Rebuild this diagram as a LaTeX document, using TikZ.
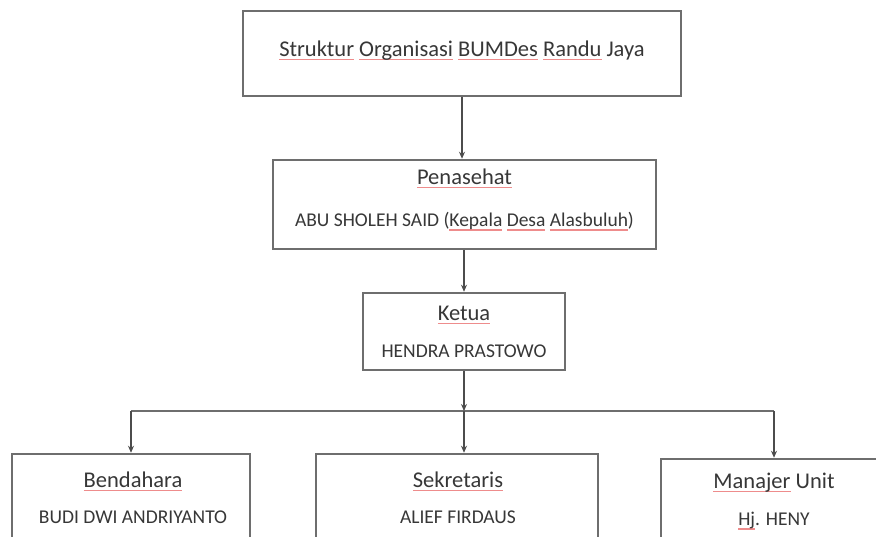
\documentclass[tikz,border=0pt]{standalone}
\usepackage{fontspec}
\setmainfont{Carlito}
\usetikzlibrary{arrows.meta}
\definecolor{garis}{RGB}{110,110,110}
\definecolor{teks}{RGB}{55,55,55}
\definecolor{ejaan}{RGB}{238,140,140}
\newcommand{\ejaan}[1]{\setbox0\hbox{#1}\rlap{\textcolor{ejaan}{\rule[-4pt]{\wd0}{1.3pt}}}\box0\relax}
\tikzset{
	kotak/.style={draw=garis, line width=2.5pt, inner sep=0pt},
	judulteks/.style={text=teks, inner sep=0pt, text height=15pt, text depth=5pt, font=\fontsize{22.5}{27}\selectfont},
	namateks/.style={text=teks, inner sep=0pt, text height=13pt, text depth=4pt, font=\fontsize{19.5}{23}\selectfont},
	panah/.style={draw=black!70, line width=1.4pt, -{Stealth[length=7pt,width=6pt]}},
	jalur/.style={draw=garis, line width=1.8pt},
}
\begin{document}
\begin{tikzpicture}[x=1pt,y=-1pt]
	\useasboundingbox (0,0) rectangle (876,536);
	\clip (0,0) rectangle (876,536);
	\fill[white] (0,0) rectangle (876,536);
	
	\node[kotak, minimum width=438pt, minimum height=85pt] (judul) at (462,53.5) {};
	\node[judulteks] (judul-a) at (462,51) {\ejaan{Struktur} \ejaan{Organisasi} \ejaan{BUMDes} \ejaan{Randu} Jaya};
	
	\node[kotak, minimum width=383pt, minimum height=89pt] (penasehat) at (464.5,204.5) {};
	\node[judulteks] (penasehat-a) at (464.5,179) {\ejaan{Penasehat}};
	\node[namateks] (penasehat-b) at (464.5,222) {ABU SHOLEH SAID (\ejaan{Kepala} \ejaan{Desa} \ejaan{Alasbuluh})};
	
	\node[kotak, minimum width=202pt, minimum height=77pt] (ketua) at (464,331.5) {};
	\node[judulteks] (ketua-a) at (464,315) {\ejaan{Ketua}};
	\node[namateks] (ketua-b) at (464,353) {HENDRA PRASTOWO};
	
	\node[kotak, minimum width=238pt, minimum height=90pt] (bendahara) at (131,499) {};
	\node[judulteks] (bendahara-a) at (133,482) {\ejaan{Bendahara}};
	\node[namateks] (bendahara-b) at (133,519) {BUDI DWI ANDRIYANTO};
	
	\node[kotak, minimum width=282pt, minimum height=90pt] (sekretaris) at (457,499) {};
	\node[judulteks] (sekretaris-a) at (458,482) {\ejaan{Sekretaris}};
	\node[namateks] (sekretaris-b) at (458,519) {ALIEF FIRDAUS};
	
	\node[kotak, minimum width=226pt, minimum height=83pt] (manajer) at (774,500.5) {};
	\node[judulteks] (manajer-a) at (774,483) {\ejaan{Manajer} Unit};
	\node[namateks] (manajer-b) at (774,521) {\ejaan{Hj}. HENY};
	
	\coordinate (cabang) at (464,411);
	\coordinate (kiri) at (131,411);
	\coordinate (kanan) at (774,411);
	
	\draw[panah] (judul.south) -- (judul.south |- penasehat.north);
	\draw[panah] (penasehat.south -| ketua.north) -- (ketua);
	\draw[jalur] (kiri) -- (kanan);
	\draw[panah] (ketua) -- (cabang);
	\draw[panah] (kiri) -- (bendahara);
	\draw[panah] (cabang) -- (cabang |- sekretaris.north);
	\draw[panah] (kanan) -- (manajer);
\end{tikzpicture}
\end{document}
